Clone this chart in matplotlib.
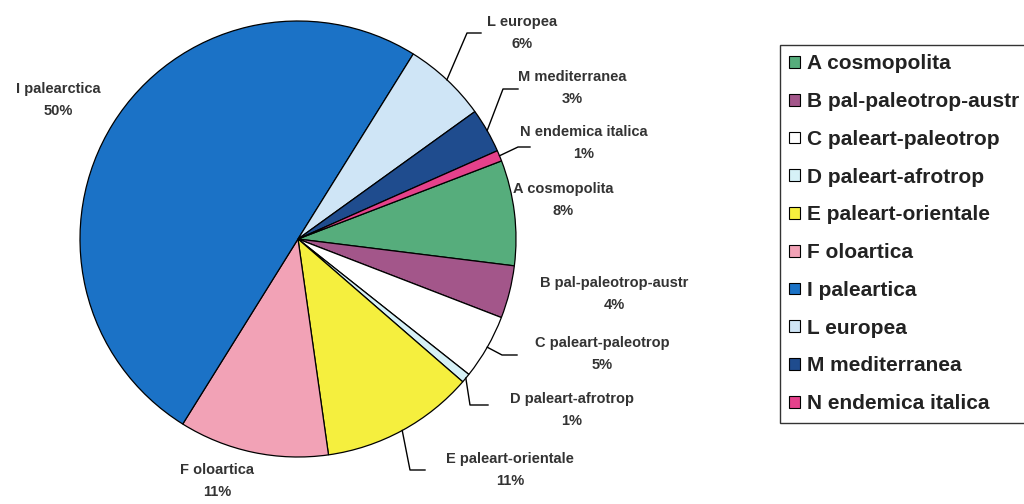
import numpy as np
import matplotlib.pyplot as plt
from matplotlib.patches import Patch

labels = ['A cosmopolita', 'B pal-paleotrop-austr', 'C paleart-paleotrop',
          'D paleart-afrotrop', 'E paleart-orientale', 'F oloartica',
          'I palearctica', 'L europea', 'M mediterranea', 'N endemica italica']
legend_labels = ['A cosmopolita', 'B pal-paleotrop-austr', 'C paleart-paleotrop',
                 'D paleart-afrotrop', 'E paleart-orientale', 'F oloartica',
                 'I paleartica', 'L europea', 'M mediterranea', 'N endemica italica']
values = [7.8, 3.9, 4.8, 0.7, 11.4, 11.1, 50.0, 6.2, 3.3, 0.8]
colors = ['#56ad7c', '#a3568a', '#ffffff', '#d6f1f7', '#f5ef3e',
          '#f2a2b6', '#1b72c6', '#cfe5f6', '#1f4c8e', '#e5418b']

# label text positions (pixel coords of reference) and leader lines
label_pos = [(563, 200), (614, 294), (602, 354), (572, 410), (510, 470),
             (217, 481), (58, 100), (522, 33), (572, 88), (584, 143)]
leader = {2: [(502, 355), (517, 355)], 3: [(470, 405), (488, 405)],
          4: [(410, 470), (425, 470)], 7: [(467, 33), (481, 33)],
          8: [(503, 89), (518, 89)], 9: [(518, 147), (530, 147)]}

W, H = 1024, 504
CX, CY, R = 298, 239, 218


def px(x, y):
    return (x - CX) / R, (CY - y) / R


fig = plt.figure(figsize=(W / 100, H / 100), dpi=100)
ax = fig.add_axes([(CX - R) / W, (H - CY - R) / H, 2 * R / W, 2 * R / H])
wedges, _ = ax.pie(values, colors=colors, startangle=21, counterclock=False,
                   radius=1, wedgeprops=dict(edgecolor='black', linewidth=0.9))
ax.set_xlim(-1, 1)
ax.set_ylim(-1, 1)
ax.set_aspect('equal')
ax.axis('off')

total = sum(values)
for i, w in enumerate(wedges):
    pct = round(values[i] / total * 100)
    tx, ty = px(*label_pos[i])
    ax.text(tx, ty, f'{labels[i]}\n{pct}%', ha='center', va='center',
            fontsize=10.5, fontweight='bold', color='#333333', linespacing=1.75,
            family='Liberation Sans', clip_on=False)
    if leader.get(i):
        mid = np.deg2rad((w.theta1 + w.theta2) / 2)
        pts = [(np.cos(mid), np.sin(mid))] + [px(*p) for p in leader[i]]
        xs, ys = zip(*pts)
        ax.plot(xs, ys, color='black', lw=1, clip_on=False)

handles = [Patch(facecolor=c, edgecolor='black', linewidth=0.8) for c in colors]
leg = fig.legend(handles, legend_labels, loc='upper left',
                 bbox_to_anchor=(780 / W, 1 - 45 / H), frameon=True,
                 fancybox=False, handlelength=0.5, handleheight=0.5,
                 handletextpad=0.35, labelspacing=0.9, borderpad=0.45,
                 borderaxespad=0,
                 prop=dict(family='Liberation Sans', weight='bold', size=15))
leg.get_frame().set_edgecolor('black')
leg.get_frame().set_linewidth(1)
for t in leg.get_texts():
    t.set_color('#222222')

fig.savefig('out.png', dpi=100)
